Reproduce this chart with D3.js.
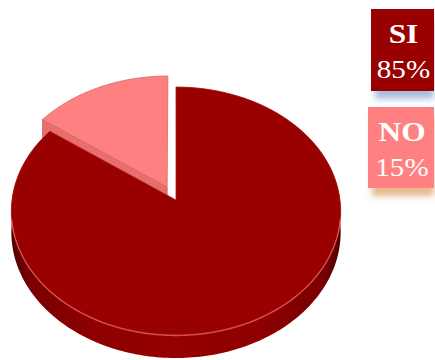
<!DOCTYPE html>
<html lang="en">
<head>
<meta charset="utf-8">
<title>SI / NO</title>
<script src="https://d3js.org/d3.v7.min.js"></script>
<style>
  body { margin: 0; background: #fff; }
  svg { display: block; }
</style>
</head>
<body>
<script>
// data
var labels = ["SI", "NO"];
var values = [85, 15];
var pctLabels = ["85%", "15%"];
var topColors = ["#990000", "#ff8080"];
var shadowColors = ["#a9bedc", "#e6b88c"];

var W = 435, H = 360;
var cx = 176, cy = 200;      // projected pie centre (apex)
var sx = 164, sy = 123;      // radii
var e = 0.0887;              // perspective factor
var depth = 21;              // thickness
var explode = [0, 0.12];

var svg = d3.select("body").append("svg").attr("width", W).attr("height", H);
var defs = svg.append("defs");

var sideGrad = defs.append("linearGradient").attr("id", "sideGrad")
  .attr("gradientUnits", "userSpaceOnUse").attr("x1", 10).attr("x2", 342).attr("y1", 0).attr("y2", 0);
[[0, "#4a0000"], [0.06, "#7a0000"], [0.25, "#8e0000"], [0.5, "#950000"], [0.75, "#8e0000"], [0.94, "#7a0000"], [1, "#4a0000"]]
  .forEach(function (s) { sideGrad.append("stop").attr("offset", s[0]).attr("stop-color", s[1]); });

var blur = defs.append("filter").attr("id", "blur").attr("x", "-20%").attr("y", "-50%").attr("width", "140%").attr("height", "200%");
blur.append("feGaussianBlur").attr("stdDeviation", 3);

// projection of a point in the pie plane (u east, v toward viewer), z = down offset
function proj(u, v, z) {
  var k = 1 / (1 - e * v);
  return [cx + sx * u * k, cy + sy * v * k + (z || 0) * k];
}
function rim(a, r, off, z) {
  return proj(off[0] + r * Math.sin(a), off[1] - r * Math.cos(a), z);
}
function arcPts(a0, a1, off, z) {
  var n = Math.max(2, Math.ceil((a1 - a0) / 0.02));
  return d3.range(n + 1).map(function (i) { return rim(a0 + (a1 - a0) * i / n, 1, off, z); });
}

var pie = d3.pie().sort(null).startAngle(0).endAngle(2 * Math.PI);
var arcs = pie(values);
var line = d3.line();

arcs.forEach(function (d, i) {
  var mid = (d.startAngle + d.endAngle) / 2;
  d.off = [explode[i] * Math.sin(mid), -explode[i] * Math.cos(mid)];
});

function drawSlice(d, i) {
  var off = d.off;
  var g = svg.append("g");
  var apexT = proj(off[0], off[1], 0), apexB = proj(off[0], off[1], depth);
  var top = arcPts(d.startAngle, d.endAngle, off, 0);
  var bot = arcPts(d.startAngle, d.endAngle, off, depth);

  if (i === 0) {
    // outer side
    g.append("path").attr("d", line(top.concat(bot.slice().reverse())) + "Z")
      .attr("fill", "url(#sideGrad)");
  } else {
    // visible cut face at start angle
    var c0T = rim(d.startAngle, 1, off, 0), c0B = rim(d.startAngle, 1, off, depth);
    g.append("path").attr("d", line([apexT, c0T, c0B, apexB]) + "Z")
      .attr("fill", "#e86e6e").attr("stroke", "#c85858").attr("stroke-width", 0.8);
  }
  g.append("path").attr("d", line([apexT].concat(top)) + "Z")
    .attr("fill", topColors[i])
    .attr("stroke", i === 0 ? "#b02020" : "#d86a6a").attr("stroke-width", 0.8);
  if (i === 0) {
    var a0 = Math.max(d.startAngle, Math.PI * 0.5), a1 = Math.min(d.endAngle, Math.PI * 1.5);
    g.append("path").attr("d", line(arcPts(a0 + 0.15, a1 - 0.15, off, 0.5)))
      .attr("fill", "none").attr("stroke", "#e66060").attr("stroke-width", 1.3).attr("opacity", 0.8);
  }
}

// back (exploded) slice first, then the big one
drawSlice(arcs[1], 1);
drawSlice(arcs[0], 0);

// legend boxes
var boxes = [
  { x: 371, y: 9, w: 63, h: 82 },
  { x: 368, y: 107, w: 66, h: 81 }
];
labels.forEach(function (lab, i) {
  var b = boxes[i];
  var mx = b.x + b.w / 2;
  var lg = svg.append("g");
  lg.append("rect").attr("x", b.x + 4).attr("y", b.y + 8).attr("width", b.w - 4).attr("height", b.h)
    .attr("fill", shadowColors[i]).attr("filter", "url(#blur)");
  lg.append("rect").attr("x", b.x).attr("y", b.y).attr("width", b.w).attr("height", b.h)
    .attr("fill", topColors[i]);
  lg.append("text").attr("transform", "translate(" + (mx + 1) + "," + (b.y + 34) + ") scale(1.12,1)")
    .attr("text-anchor", "middle").attr("fill", "#fff")
    .style("font-family", "'Liberation Serif', serif").style("font-weight", "bold").style("font-size", "28px")
    .text(lab);
  lg.append("text").attr("transform", "translate(" + (mx + 1) + "," + (b.y + 69) + ") scale(1.12,1)")
    .attr("text-anchor", "middle").attr("fill", "#fff")
    .style("font-family", "'Liberation Serif', serif").style("font-size", "26px")
    .text(pctLabels[i]);
});
</script>
</body>
</html>
